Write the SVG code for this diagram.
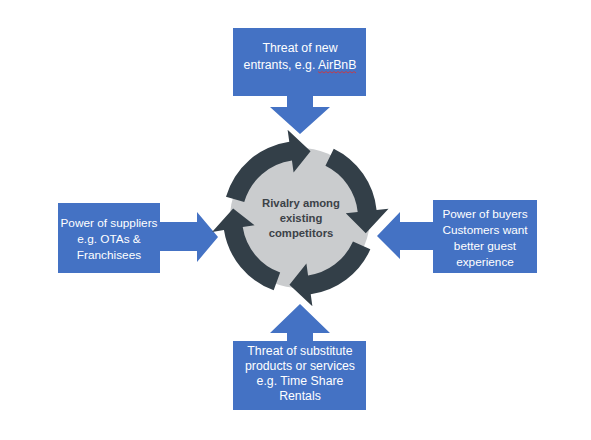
<svg xmlns="http://www.w3.org/2000/svg" width="591" height="440" viewBox="0 0 591 440">
<style>
.box{fill:#4472C4}
.arr{fill:#4472C4}
.ring{fill:#333F48}
.lbl{font-family:"Liberation Sans",Arial,sans-serif;font-size:12.3px;fill:#ffffff;text-anchor:middle}
.sm{font-size:11.8px}
.ctr{font-family:"Liberation Sans",Arial,sans-serif;font-size:11.3px;font-weight:bold;fill:#3C4248;text-anchor:middle}
</style>
<rect width="591" height="440" fill="#ffffff"/>
<g id="connectors">
<polygon class="arr" points="287,95 313,95 313,107 330,107 300,134 270,107 287,107"/>
<polygon class="arr" points="159,222 197,222 197,212 218,237 197,262 197,251 159,251"/>
<polygon class="arr" points="434,222 400,222 400,212 377,236 400,259 400,250 434,250"/>
<polygon class="arr" points="287,342 313,342 313,333 330,333 300,304 270,333 287,333"/>
</g>
<g id="rivalry">
<circle cx="300" cy="218" r="70" fill="#CACCCE"/>
<path class="ring" d="M225.98,196.78 A77,77 0 0 1 289.28,141.75 L287.61,129.86 L310.56,151.33 L293.60,172.45 L291.93,160.56 A58,58 0 0 0 244.24,202.02 Z"/>
<path class="ring" d="M333.76,148.79 A77,77 0 0 1 376.58,209.95 L388.51,208.70 L365.77,233.19 L345.75,213.19 L357.68,211.94 A58,58 0 0 0 325.43,165.87 Z"/>
<path class="ring" d="M370.34,249.32 A77,77 0 0 1 310.72,294.25 L312.39,306.14 L289.44,284.67 L306.40,263.55 L308.07,275.44 A58,58 0 0 0 352.98,241.59 Z"/>
<path class="ring" d="M273.67,290.36 A77,77 0 0 1 223.95,230.04 L212.09,231.92 L233.15,208.60 L254.57,225.19 L242.71,227.07 A58,58 0 0 0 280.16,272.50 Z"/>
<text class="ctr" x="301" y="207">Rivalry among</text>
<text class="ctr" x="301" y="222">existing</text>
<text class="ctr" x="301" y="237">competitors</text>
</g>
<g id="new-entrants">
<rect class="box" x="233" y="28" width="133" height="68"/>
<text class="lbl" x="300" y="52">Threat of new</text>
<text class="lbl" x="300" y="69">entrants, e.g. AirBnB</text>
<polyline points="318,71.5 320,73 322,71.5 324,73 326,71.5 328,73 330,71.5 332,73 334,71.5 336,73 338,71.5 340,73 342,71.5 344,73 346,71.5 348,73 350,71.5 352,73 354,71.5 356,73" fill="none" stroke="#E03030" stroke-width="0.8"/>
</g>
<g id="suppliers">
<rect class="box" x="58" y="203" width="102" height="70"/>
<text class="lbl sm" x="109" y="227">Power of suppliers</text>
<text class="lbl sm" x="109" y="243">e.g. OTAs &amp;</text>
<text class="lbl sm" x="109" y="259">Franchisees</text>
</g>
<g id="buyers">
<rect class="box" x="433" y="200" width="104" height="73"/>
<text class="lbl sm" x="485" y="218">Power of buyers</text>
<text class="lbl sm" x="485" y="234">Customers want</text>
<text class="lbl sm" x="485" y="250">better guest</text>
<text class="lbl sm" x="485" y="266">experience</text>
</g>
<g id="substitutes">
<rect class="box" x="233" y="341" width="133" height="69"/>
<text class="lbl" x="300" y="355">Threat of substitute</text>
<text class="lbl" x="300" y="370">products or services</text>
<text class="lbl" x="300" y="385">e.g. Time Share</text>
<text class="lbl" x="300" y="400">Rentals</text>
</g>
</svg>
